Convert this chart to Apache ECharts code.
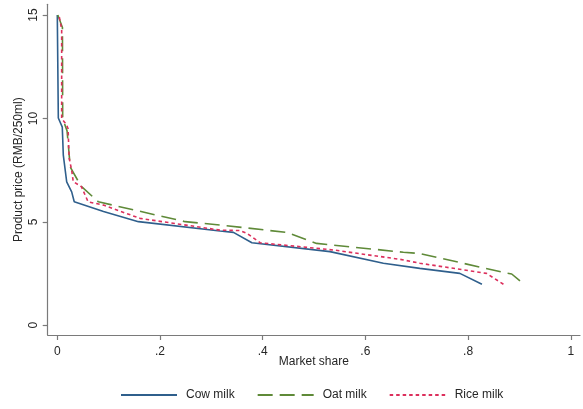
<!DOCTYPE html>
<html>
<head>
<meta charset="utf-8">
<script src="https://cdn.jsdelivr.net/npm/echarts@6/dist/echarts.min.js"></script>
<style>
html,body{margin:0;padding:0;background:#fff;}
#chart{width:583px;height:409px;}
</style>
</head>
<body>
<div id="chart"></div>
<script>
// Data
const seriesNames = ['Cow milk', 'Oat milk', 'Rice milk'];

const cowShare = [0, 0.002, 0.0097, 0.0117, 0.0183, 0.028, 0.033, 0.09, 0.158, 0.317, 0.343, 0.379, 0.531, 0.635, 0.706, 0.784, 0.827];
const cowPrice = [15.0, 10.02, 9.58, 8.23, 6.93, 6.45, 5.97, 5.5, 5.01, 4.56, 4.49, 3.99, 3.56, 3.0, 2.75, 2.51, 1.98];

const oatShare = [0.001, 0.01, 0.0105, 0.019, 0.024, 0.024, 0.04, 0.043, 0.08, 0.249, 0.317, 0.447, 0.505, 0.674, 0.706, 0.872, 0.885, 0.908];
const oatPrice = [15.0, 14.4, 10.0, 9.4, 8.0, 7.7, 7.0, 6.8, 5.97, 5.01, 4.85, 4.49, 3.96, 3.53, 3.47, 2.54, 2.48, 2.0];

const riceShare = [0.004, 0.0085, 0.0085, 0.018, 0.021, 0.023, 0.028, 0.031, 0.047, 0.06, 0.09, 0.161, 0.317, 0.356, 0.369, 0.395, 0.538, 0.667, 0.706, 0.836, 0.869];
const ricePrice = [14.9, 14.3, 10.0, 9.7, 9.5, 8.1, 7.5, 6.95, 6.7, 5.97, 5.81, 5.17, 4.6, 4.58, 4.45, 3.99, 3.64, 3.19, 3.0, 2.51, 1.98];

const xTicks = [0, 0.2, 0.4, 0.6, 0.8, 1];
const yTicks = [0, 5, 10, 15];

const xTitle = 'Market share';
const yTitle = 'Product price (RMB/250ml)';

function pairs(xs, ys) { return xs.map((x, i) => [x, ys[i]]); }

const FONT = '"Liberation Sans", Arial, sans-serif';
const TXT = '#262626';
const AX = '#7a7a7a';

const chart = echarts.init(document.getElementById('chart'), null, {renderer: 'canvas'});
chart.setOption({
  animation: false,
  backgroundColor: '#fff',
  textStyle: {fontFamily: FONT},
  grid: {left: 47.7, right: 3, top: 4.3, bottom: 74, containLabel: false},
  legend: {
    data: seriesNames,
    left: 115,
    top: 384,
    itemWidth: 56,
    itemHeight: 14,
    itemGap: 22,
    itemStyle: {opacity: 0, borderWidth: 0},
    textStyle: {fontFamily: FONT, fontSize: 12, color: TXT, padding: [0, 0, 0, 4]}
  },
  xAxis: {
    type: 'value',
    min: -0.0187,
    max: 1.018,
    name: xTitle,
    nameLocation: 'middle',
    nameGap: 21,
    nameMoveOverlap: false,
    nameTextStyle: {fontFamily: FONT, fontSize: 12, color: TXT},
    splitLine: {show: false},
    axisLine: {show: true, onZero: false, lineStyle: {color: AX, width: 1.2}},
    axisTick: {show: true, length: 5, customValues: xTicks, lineStyle: {color: AX, width: 1.2}},
    axisLabel: {
      customValues: xTicks,
      margin: 11,
      fontFamily: FONT, fontSize: 12, color: TXT,
      formatter: v => (v === 0 ? '0' : v === 1 ? '1' : String(+v.toFixed(2)).replace(/^0/, ''))
    }
  },
  yAxis: {
    type: 'value',
    min: -0.47,
    max: 15.52,
    name: yTitle,
    nameLocation: 'middle',
    nameGap: 23,
    nameMoveOverlap: false,
    nameTextStyle: {fontFamily: FONT, fontSize: 12, color: TXT},
    splitLine: {show: false},
    axisLine: {show: true, onZero: false, lineStyle: {color: AX, width: 1.2}},
    axisTick: {show: true, length: 5, customValues: yTicks, lineStyle: {color: AX, width: 1.2}},
    axisLabel: {
      customValues: yTicks,
      rotate: 90,
      margin: 8,
      fontFamily: FONT, fontSize: 12, color: TXT
    }
  },
  series: [
    {
      name: seriesNames[0], type: 'line', data: pairs(cowShare, cowPrice),
      symbol: 'none', showSymbol: false,
      lineStyle: {color: '#2f5f8c', width: 1.6, type: 'solid'},
      itemStyle: {color: '#2f5f8c'}
    },
    {
      name: seriesNames[1], type: 'line', data: pairs(oatShare, oatPrice),
      symbol: 'none', showSymbol: false,
      lineStyle: {color: '#5f8a38', width: 1.6, type: [15, 7]},
      itemStyle: {color: '#5f8a38'}
    },
    {
      name: seriesNames[2], type: 'line', data: pairs(riceShare, ricePrice),
      symbol: 'none', showSymbol: false,
      lineStyle: {color: '#dc2f5c', width: 1.6, type: [3.5, 3]},
      itemStyle: {color: '#dc2f5c'}
    }
  ]
});
</script>
</body>
</html>
